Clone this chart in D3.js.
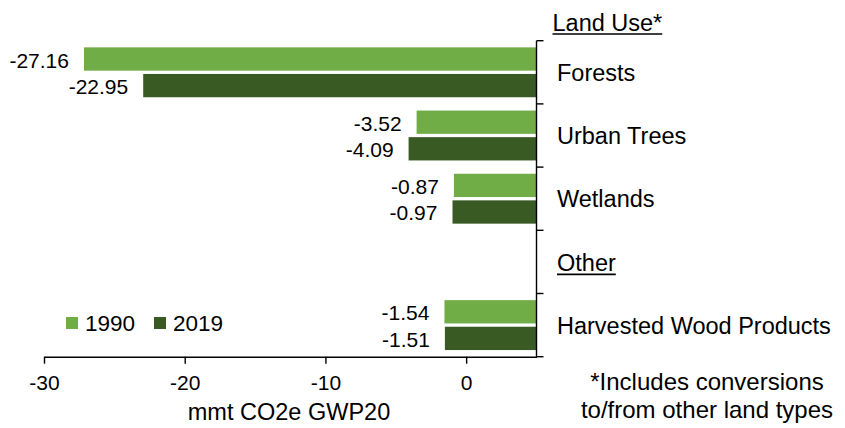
<!DOCTYPE html>
<html>
<head>
<meta charset="utf-8">
<script src="https://cdn.jsdelivr.net/npm/d3@7"></script>
<style>
  html, body { margin: 0; padding: 0; background: #fff; }
  svg { display: block; font-family: "Liberation Sans", Arial, sans-serif; }
</style>
</head>
<body>
<svg id="chart" width="845" height="428"></svg>
<script>
// ---- data ----
const bandKeys = ["Forests", "Urban Trees", "Wetlands", "Other", "Harvested Wood Products"];
const headerKeys = ["Other"];
const series = ["1990", "2019"];
const values1990 = [-27.16, -3.52, -0.87, null, -1.54];
const values2019 = [-22.95, -4.09, -0.97, null, -1.51];
const xTicks = [-30, -20, -10, 0];
const xTickLabels = ["-30", "-20", "-10", "0"];
const colors = ["#70ad47", "#3a5a24"];
const topHeader = "Land Use*";
const axisTitle = "mmt CO2e GWP20";
const footnote = ["*Includes conversions", "to/from other land types"];

// ---- layout ----
const svg = d3.select("#chart");
const x = d3.scaleLinear().domain([-30, 5]).range([44, 536.5]);
const y0 = d3.scaleBand().domain(bandKeys).range([40.7, 356.7]);
const y1 = d3.scaleBand().domain(series).range([0, y0.bandwidth()]).paddingInner(0.124).paddingOuter(0.25);
const color = d3.scaleOrdinal().domain(series).range(colors);

const rows = [];
bandKeys.forEach((k, i) => {
  [values1990, values2019].forEach((arr, j) => {
    if (arr[i] != null) rows.push({ cat: k, s: series[j], v: arr[i] });
  });
});

// bars
svg.append("g").selectAll("rect").data(rows).join("rect")
  .attr("x", d => x(d.v))
  .attr("y", d => y0(d.cat) + y1(d.s))
  .attr("width", d => x(5) - x(d.v))
  .attr("height", y1.bandwidth())
  .attr("fill", d => color(d.s));

// value labels
svg.append("g").selectAll("text").data(rows).join("text")
  .attr("x", d => x(d.v) - 15)
  .attr("y", d => y0(d.cat) + y1(d.s) + y1.bandwidth() / 2 + 8.5)
  .attr("text-anchor", "end")
  .attr("font-size", 21)
  .attr("fill", "#000")
  .text(d => d.v.toFixed(2));

// x axis
const xAxis = svg.append("g")
  .attr("transform", `translate(0,${y0.range()[1]})`)
  .call(d3.axisBottom(x).tickValues(xTicks).tickSize(7).tickSizeOuter(0)
    .tickFormat((d, i) => xTickLabels[i]));
xAxis.select(".domain").attr("stroke", "#000").attr("stroke-width", 1.4);
xAxis.selectAll(".tick line").attr("stroke", "#000").attr("stroke-width", 1.4);
xAxis.selectAll(".tick text")
  .attr("font-size", 21).attr("font-family", "Liberation Sans, Arial, sans-serif")
  .attr("fill", "#000").attr("y", 0).attr("dy", 33);

// y axis (vertical line at domain max with ticks at band boundaries pointing right)
const yBounds = bandKeys.map(k => y0(k)).concat([y0.range()[1]]);
const yAxisG = svg.append("g").attr("transform", `translate(${x(5)},0)`);
yAxisG.append("line")
  .attr("x1", 0).attr("x2", 0)
  .attr("y1", y0.range()[0]).attr("y2", y0.range()[1])
  .attr("stroke", "#000").attr("stroke-width", 1.4);
yAxisG.selectAll("line.tk").data(yBounds).join("line")
  .attr("class", "tk")
  .attr("x1", 0).attr("x2", 7)
  .attr("y1", d => d).attr("y2", d => d)
  .attr("stroke", "#000").attr("stroke-width", 1.4);

// category labels
const catG = svg.append("g");
bandKeys.forEach(k => {
  const isHeader = headerKeys.includes(k);
  const t = catG.append("text")
    .attr("x", 557)
    .attr("y", y0(k) + y0.bandwidth() / 2 + (isHeader ? 9.5 : 8.5))
    .attr("font-size", 23.5)
    .attr("fill", "#000")
    .text(k);
  if (isHeader) {
    const w = t.node().getComputedTextLength();
    const by = y0(k) + y0.bandwidth() / 2 + 12.5;
    catG.append("line").attr("x1", 557).attr("x2", 557 + w)
      .attr("y1", by).attr("y2", by).attr("stroke", "#000").attr("stroke-width", 1.6);
  }
});

// top header
const th = svg.append("text")
  .attr("x", 552.5).attr("y", 31)
  .attr("font-size", 23.5).attr("fill", "#000")
  .text(topHeader);
const thw = th.node().getComputedTextLength();
svg.append("line").attr("x1", 552.5).attr("x2", 552.5 + thw)
  .attr("y1", 34).attr("y2", 34).attr("stroke", "#000").attr("stroke-width", 1.6);

// legend
const legend = svg.append("g");
const legendX = [66, 154];
series.forEach((s, i) => {
  legend.append("rect")
    .attr("x", legendX[i]).attr("y", 317)
    .attr("width", 12).attr("height", 12)
    .attr("fill", color(s));
  legend.append("text")
    .attr("x", legendX[i] + 19).attr("y", 330.5)
    .attr("font-size", 22.5).attr("fill", "#000")
    .text(s);
});

// axis title
svg.append("text")
  .attr("x", 289).attr("y", 420)
  .attr("text-anchor", "middle")
  .attr("font-size", 23.5).attr("fill", "#000")
  .text(axisTitle);

// footnote
svg.append("g").selectAll("text").data(footnote).join("text")
  .attr("x", 707)
  .attr("y", (d, i) => 390 + i * 28)
  .attr("text-anchor", "middle")
  .attr("font-size", 24).attr("fill", "#000")
  .text(d => d);
</script>
</body>
</html>
